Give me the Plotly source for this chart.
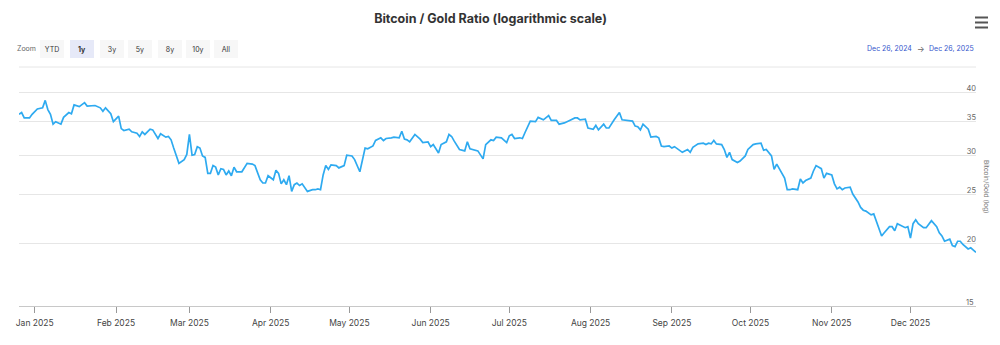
import math
import plotly.graph_objects as go

# ---------------- data ----------------
dates = [
    "2024-12-26", "2024-12-27", "2024-12-28", "2024-12-30", "2024-12-31", "2025-01-02", "2025-01-04", "2025-01-05",
    "2025-01-06", "2025-01-07", "2025-01-08", "2025-01-09", "2025-01-11", "2025-01-12", "2025-01-14", "2025-01-15",
    "2025-01-16", "2025-01-18", "2025-01-20", "2025-01-21", "2025-01-24", "2025-01-26", "2025-01-27", "2025-01-28",
    "2025-01-30", "2025-01-31", "2025-02-02", "2025-02-03", "2025-02-04", "2025-02-06", "2025-02-07", "2025-02-09",
    "2025-02-10", "2025-02-11", "2025-02-12", "2025-02-14", "2025-02-15", "2025-02-17", "2025-02-18", "2025-02-20",
    "2025-02-21", "2025-02-22", "2025-02-23", "2025-02-25", "2025-02-27", "2025-02-28", "2025-03-01", "2025-03-02",
    "2025-03-03", "2025-03-04", "2025-03-05", "2025-03-06", "2025-03-07", "2025-03-08", "2025-03-09", "2025-03-10",
    "2025-03-11", "2025-03-12", "2025-03-13", "2025-03-14", "2025-03-15", "2025-03-16", "2025-03-17", "2025-03-18",
    "2025-03-19", "2025-03-21", "2025-03-23", "2025-03-25", "2025-03-26", "2025-03-28", "2025-03-29", "2025-03-30",
    "2025-03-31", "2025-04-02", "2025-04-03", "2025-04-04", "2025-04-05", "2025-04-06", "2025-04-07", "2025-04-08",
    "2025-04-09", "2025-04-10", "2025-04-11", "2025-04-12", "2025-04-13", "2025-04-14", "2025-04-15", "2025-04-17",
    "2025-04-18", "2025-04-19", "2025-04-20", "2025-04-21", "2025-04-22", "2025-04-23", "2025-04-24", "2025-04-26",
    "2025-04-27", "2025-04-29", "2025-04-30", "2025-05-02", "2025-05-03", "2025-05-05", "2025-05-07", "2025-05-08",
    "2025-05-10", "2025-05-11", "2025-05-13", "2025-05-14", "2025-05-15", "2025-05-17", "2025-05-18", "2025-05-20",
    "2025-05-21", "2025-05-22", "2025-05-23", "2025-05-24", "2025-05-26", "2025-05-28", "2025-05-29", "2025-05-31",
    "2025-06-01", "2025-06-02", "2025-06-04", "2025-06-05", "2025-06-07", "2025-06-08", "2025-06-09", "2025-06-10",
    "2025-06-12", "2025-06-14", "2025-06-15", "2025-06-16", "2025-06-17", "2025-06-19", "2025-06-21", "2025-06-22",
    "2025-06-24", "2025-06-25", "2025-06-26", "2025-06-28", "2025-06-30", "2025-07-01", "2025-07-02", "2025-07-03",
    "2025-07-05", "2025-07-06", "2025-07-07", "2025-07-09", "2025-07-11", "2025-07-12", "2025-07-14", "2025-07-16",
    "2025-07-17", "2025-07-19", "2025-07-20", "2025-07-22", "2025-07-24", "2025-07-26", "2025-07-27", "2025-07-28",
    "2025-07-30", "2025-07-31", "2025-08-02", "2025-08-03", "2025-08-04", "2025-08-06", "2025-08-07", "2025-08-08",
    "2025-08-10", "2025-08-12", "2025-08-13", "2025-08-15", "2025-08-17", "2025-08-18", "2025-08-19", "2025-08-20",
    "2025-08-21", "2025-08-23", "2025-08-24", "2025-08-26", "2025-08-27", "2025-08-28", "2025-08-29", "2025-08-31",
    "2025-09-01", "2025-09-02", "2025-09-03", "2025-09-05", "2025-09-07", "2025-09-08", "2025-09-09", "2025-09-11",
    "2025-09-13", "2025-09-14", "2025-09-15", "2025-09-16", "2025-09-17", "2025-09-18", "2025-09-20", "2025-09-21",
    "2025-09-22", "2025-09-23", "2025-09-24", "2025-09-26", "2025-09-27", "2025-09-28", "2025-09-29", "2025-09-30",
    "2025-10-02", "2025-10-03", "2025-10-05", "2025-10-06", "2025-10-07", "2025-10-09", "2025-10-10", "2025-10-11",
    "2025-10-12", "2025-10-14", "2025-10-15", "2025-10-16", "2025-10-17", "2025-10-19", "2025-10-20", "2025-10-21",
    "2025-10-22", "2025-10-24", "2025-10-25", "2025-10-26", "2025-10-28", "2025-10-29", "2025-10-30", "2025-11-01",
    "2025-11-02", "2025-11-03", "2025-11-04", "2025-11-05", "2025-11-06", "2025-11-08", "2025-11-09", "2025-11-11",
    "2025-11-12", "2025-11-13", "2025-11-14", "2025-11-16", "2025-11-17", "2025-11-18", "2025-11-19", "2025-11-20",
    "2025-11-21", "2025-11-23", "2025-11-24", "2025-11-25", "2025-11-26", "2025-11-28", "2025-11-29", "2025-11-30",
    "2025-12-01", "2025-12-02", "2025-12-03", "2025-12-04", "2025-12-06", "2025-12-07", "2025-12-08", "2025-12-09",
    "2025-12-11", "2025-12-12", "2025-12-13", "2025-12-14", "2025-12-16", "2025-12-17", "2025-12-18", "2025-12-19",
    "2025-12-20", "2025-12-21", "2025-12-23", "2025-12-24", "2025-12-25", "2025-12-26",
]

ratio = [
    36.2, 36.5, 35.6, 35.6, 36.2, 37.1, 37.3, 38.6,
    37.0, 36.2, 34.6, 35.0, 34.6, 35.7, 36.5, 36.3,
    37.8, 37.5, 38.2, 37.6, 37.7, 37.3, 36.7, 37.3,
    36.3, 35.0, 35.9, 33.9, 33.6, 33.8, 33.4, 33.2,
    32.7, 33.4, 33.0, 33.8, 33.7, 32.4, 33.1, 32.6,
    32.7, 32.2, 31.0, 28.9, 29.4, 30.1, 33.0, 30.0,
    30.1, 31.2, 31.0, 29.9, 29.7, 27.6, 27.6, 28.6,
    28.4, 27.4, 28.2, 28.1, 27.4, 27.9, 27.3, 28.4,
    27.8, 27.8, 28.9, 28.8, 28.6, 26.8, 26.4, 26.4,
    27.3, 26.8, 28.0, 27.6, 26.3, 26.8, 26.2, 27.3,
    25.4, 26.2, 26.4, 26.1, 26.3, 25.9, 25.4, 25.6,
    25.6, 25.7, 25.6, 27.4, 28.6, 28.1, 28.7, 28.6,
    28.3, 28.6, 30.0, 29.9, 29.4, 27.8, 31.0, 30.9,
    31.3, 32.1, 32.5, 32.1, 32.4, 32.5, 32.6, 32.5,
    33.5, 32.3, 32.2, 31.9, 33.0, 32.3, 31.8, 31.9,
    31.2, 31.5, 30.3, 31.5, 31.9, 33.0, 32.7, 32.0,
    30.8, 30.6, 31.9, 30.9, 30.8, 30.6, 29.5, 31.5,
    32.2, 32.1, 32.6, 32.5, 31.8, 32.8, 33.0, 32.4,
    32.5, 32.4, 33.3, 35.1, 35.0, 35.7, 35.3, 36.0,
    35.2, 35.2, 34.6, 34.8, 35.2, 35.6, 35.6, 35.3,
    35.4, 34.0, 33.8, 34.4, 33.7, 34.6, 34.0, 34.0,
    35.3, 36.5, 35.3, 35.2, 35.1, 34.3, 34.2, 33.7,
    34.6, 33.8, 32.6, 32.7, 32.5, 31.3, 31.2, 31.3,
    31.0, 31.2, 30.9, 30.4, 30.8, 30.4, 31.1, 31.6,
    31.7, 31.5, 31.7, 31.6, 32.1, 31.6, 31.5, 30.8,
    29.7, 30.4, 29.4, 29.0, 29.2, 29.6, 29.9, 30.8,
    31.5, 31.6, 31.7, 30.7, 30.8, 29.9, 28.1, 28.8,
    28.2, 27.0, 25.6, 25.6, 25.7, 25.6, 26.9, 26.4,
    26.7, 27.0, 27.9, 28.6, 28.2, 27.0, 27.6, 27.4,
    26.3, 25.7, 25.9, 25.6, 25.8, 25.9, 25.1, 24.2,
    23.6, 23.3, 23.2, 22.8, 22.9, 22.1, 21.5, 20.7,
    21.0, 21.6, 21.6, 21.2, 21.9, 21.6, 21.5, 21.6,
    20.5, 21.9, 22.3, 21.9, 21.5, 21.5, 21.9, 22.2,
    21.6, 21.0, 20.7, 20.2, 20.4, 19.8, 19.7, 20.2,
    20.2, 19.9, 19.5, 19.6, 19.4, 19.2,
]

y_ticks = [15, 20, 25, 30, 35, 40, 45]
y_tick_labels = ["", "20", "25", "30", "35", "40", ""]
y_bottom_label = "15"
zoom_buttons = ["YTD", "1y", "3y", "5y", "8y", "10y", "All"]
selected_button = "1y"
range_start_label = "Dec 26, 2024"
range_end_label = "Dec 26, 2025"

# ---------------- layout geometry (pixels) ----------------
W, H = 1000, 345
L, R, T, B = 19, 976, 67, 306
FONT = "Inter, Liberation Sans, Arial, sans-serif"


def px(xp, yp):
    return (xp - L) / (R - L), (B - yp) / (B - T)


fig = go.Figure()
fig.add_trace(go.Scatter(
    x=dates, y=ratio, mode="lines",
    line=dict(color="#2eaaf0", width=1.7),
    hoverinfo="skip", showlegend=False,
))

annotations = []

# Zoom label + buttons
zx, zy = px(26.5, 49)
annotations.append(dict(x=zx, y=zy, xref="paper", yref="paper", text="Zoom", showarrow=False,
                        font=dict(family=FONT, size=7, color="#666666"), xanchor="center", yanchor="middle"))
btn_centers = [52, 81.5, 111.5, 140, 169.5, 198, 226]
for name, cx in zip(zoom_buttons, btn_centers):
    bx, by = px(cx, 49)
    sel = name == selected_button
    annotations.append(dict(
        x=bx, y=by, xref="paper", yref="paper", showarrow=False,
        text=f"<b>{name}</b>" if sel else name,
        width=24, height=18, borderpad=0, borderwidth=0,
        bgcolor="#e6e9f8" if sel else "#f7f7f7",
        font=dict(family=FONT, size=7, color="#333333"),
        xanchor="center", yanchor="middle", align="center", valign="middle",
    ))

# date range inputs
for txt, cx, col, sz in [(range_start_label, 889.5, "#3355cc", 7), ("→", 920.5, "#666666", 8),
                         (range_end_label, 951.5, "#3355cc", 7)]:
    ax_, ay_ = px(cx, 49)
    annotations.append(dict(x=ax_, y=ay_, xref="paper", yref="paper", text=txt, showarrow=False,
                            font=dict(family=FONT, size=sz, color=col), xanchor="center", yanchor="middle"))

# bottom y label (sits on the x-axis line, plotly hides it as an inside tick label)
bx15, by15 = px(975.5, 302)
annotations.append(dict(x=bx15, y=by15, xref="paper", yref="paper", text=y_bottom_label, showarrow=False,
                        font=dict(family=FONT, size=7.5, color="#666666"), xanchor="right", yanchor="middle"))

# y-axis title (opposite side, rotated)
tx, ty = px(986, 187)
annotations.append(dict(x=tx, y=ty, xref="paper", yref="paper", text="Bitcoin/Gold (log)", showarrow=False,
                        textangle=90, font=dict(family=FONT, size=6.5, color="#777777"),
                        xanchor="center", yanchor="middle"))

shapes = []
# top grid line of the plot area (the unlabelled 45 line)
shapes.append(dict(type="line", xref="paper", yref="paper", x0=0, x1=1, y0=1, y1=1,
                   line=dict(color="#e6e6e6", width=1), layer="below"))
# hamburger (context menu) icon
for yy in (17.5, 22.5, 27.5):
    x0, y0 = px(975, yy)
    x1, _ = px(988, yy)
    shapes.append(dict(type="line", xref="paper", yref="paper", x0=x0, x1=x1, y0=y0, y1=y0,
                       line=dict(color="#555555", width=2)))

fig.update_layout(
    width=W, height=H,
    margin=dict(l=L, r=W - R, t=T, b=H - B, pad=0),
    paper_bgcolor="white", plot_bgcolor="white",
    title=dict(text="<b>Bitcoin / Gold Ratio (logarithmic scale)</b>", x=0.4905, xref="container",
               y=1 - 19 / H, yref="container", xanchor="center", yanchor="middle",
               font=dict(family=FONT, size=12.5, color="#333333")),
    xaxis=dict(
        type="date", range=["2024-12-26", "2025-12-26"],
        tickformat="%b %Y", dtick="M1", tick0="2025-01-01",
        ticks="outside", ticklen=6, tickcolor="#999999", tickwidth=1,
        ticklabelstandoff=3,
        showline=True, linecolor="#c8c8c8", linewidth=1,
        showgrid=False, zeroline=False,
        tickfont=dict(family=FONT, size=8.5, color="#444444"),
        fixedrange=True,
    ),
    yaxis=dict(
        type="log", range=[math.log10(15), math.log10(45)],
        side="right", tickmode="array", tickvals=y_ticks, ticktext=y_tick_labels,
        ticklabelposition="inside", ticklabelshift=-4, ticklabelstandoff=-3,
        showgrid=True, gridcolor="#e6e6e6", gridwidth=1,
        showline=False, zeroline=False, ticks="",
        tickfont=dict(family=FONT, size=7.5, color="#666666"),
        fixedrange=True,
    ),
    annotations=annotations,
    shapes=shapes,
    showlegend=False,
)

fig.write_html("out.html", config={"displayModeBar": False})
